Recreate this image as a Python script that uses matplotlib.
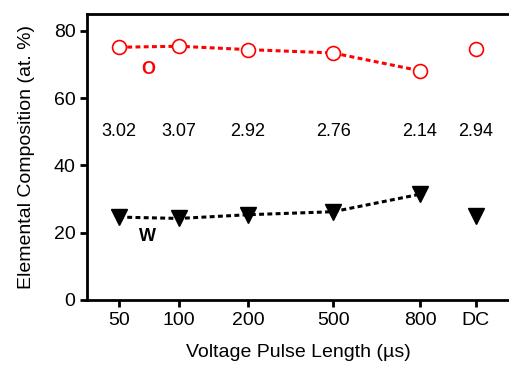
import matplotlib
matplotlib.use('agg')
import matplotlib.pyplot as plt

# categories and (uneven) positions along the x axis
pulse_labels = ['50', '100', '200', '500', '800', 'DC']
x_pos = [0, 1, 2.15, 3.57, 5.02, 5.95]

# elemental composition (at.%)
o_vals = [75.1, 75.4, 74.4, 73.4, 68.1, 74.6]
w_vals = [24.6, 24.2, 25.3, 26.2, 31.4, 24.8]
ratios = ['3.02', '3.07', '2.92', '2.76', '2.14', '2.94']

plt.rcParams['font.family'] = ['Liberation Sans', 'DejaVu Sans']

fig = plt.figure(figsize=(5.1, 3.67), dpi=100)
ax = fig.add_axes([0.171, 0.183, 0.829, 0.779])

dash = (0, (1.6, 1.1))
# pulsed points joined by a dashed line, DC point stands alone
ax.plot(x_pos[:5], o_vals[:5], linestyle=dash, color='red', lw=2.2, zorder=1)
ax.plot(x_pos, o_vals, 'o', ms=10, mfc='white', mec='red', mew=1.2, zorder=2)
ax.plot(x_pos[:5], w_vals[:5], linestyle=dash, color='black', lw=2.2, zorder=1)
ax.plot(x_pos, w_vals, 'v', ms=11, color='black', zorder=2)

for x, r in zip(x_pos, ratios):
    ax.text(x, 50, r, ha='center', va='center', fontsize=13)

ax.text(0.48, 68.5, 'O', color='red', fontweight='bold', fontsize=13, ha='center', va='center')
ax.text(0.48, 18.7, 'W', color='black', fontweight='bold', fontsize=13, ha='center', va='center')

ax.set_xlim(-0.53, 6.52)
ax.set_ylim(0, 85)
ax.set_xticks(x_pos)
ax.set_xticklabels(pulse_labels)
ax.set_yticks([0, 20, 40, 60, 80])
ax.tick_params(labelsize=14, width=2, length=5, direction='out')
ax.spines['right'].set_visible(False)
for s in ['left', 'top', 'bottom']:
    ax.spines[s].set_linewidth(2)

ax.set_xlabel('Voltage Pulse Length (µs)', fontsize=14, labelpad=11)
ax.set_ylabel('Elemental Composition (at. %)', fontsize=14, labelpad=13)

fig.savefig('out.png', dpi=100)
